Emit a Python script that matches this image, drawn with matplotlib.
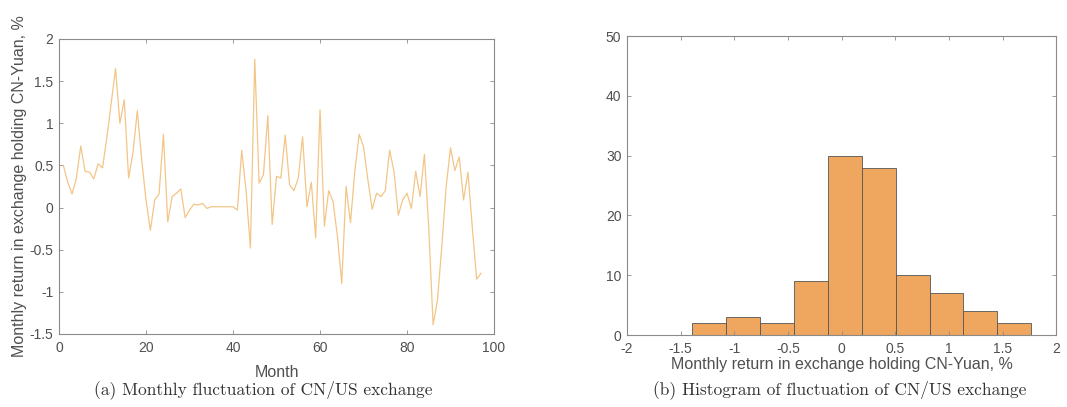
import numpy as np
import matplotlib
matplotlib.use("Agg")
import matplotlib.pyplot as plt

# monthly return in exchange holding CN-Yuan, % (months 1..97)
months = np.arange(1, 98)
returns = [
    0.50, 0.30, 0.16, 0.35, 0.73, 0.43, 0.42, 0.34, 0.52, 0.47,
    0.83, 1.24, 1.65, 1.00, 1.28, 0.35, 0.65, 1.15, 0.57, 0.09,
    -0.27, 0.09, 0.16, 0.87, -0.17, 0.13, 0.17, 0.22, -0.12, -0.03,
    0.04, 0.03, 0.05, -0.01, 0.01, 0.01, 0.01, 0.01, 0.01, 0.01,
    -0.03, 0.68, 0.20, -0.48, 1.76, 0.29, 0.39, 1.09, -0.20, 0.37,
    0.35, 0.86, 0.27, 0.20, 0.35, 0.84, 0.01, 0.30, -0.36, 1.16,
    -0.22, 0.20, 0.07, -0.34, -0.90, 0.25, -0.18, 0.43, 0.87, 0.72,
    0.33, -0.02, 0.17, 0.13, 0.20, 0.68, 0.43, -0.09, 0.09, 0.17,
    -0.01, 0.43, 0.13, 0.63, -0.25, -1.39, -1.10, -0.46, 0.25, 0.71,
    0.44, 0.60, 0.09, 0.42, -0.23, -0.85, -0.78,
]
hist_edges = np.linspace(-1.394, 1.767, 11)

line_color = "#f3c586"
bar_color = "#efa65e"
text_color = "#505050"
spine_color = "#8a8a8a"

plt.rcParams["font.family"] = ["Liberation Sans", "DejaVu Sans"]
plt.rcParams["axes.unicode_minus"] = False

fig = plt.figure(figsize=(10.67, 4.07), dpi=100)
ax1 = fig.add_axes([0.0553, 0.1794, 0.4077, 0.7248])
ax2 = fig.add_axes([0.5876, 0.1769, 0.4024, 0.7346])


def matlab_style(ax):
    for s in ax.spines.values():
        s.set_color(spine_color)
        s.set_linewidth(0.8)
    ax.tick_params(direction="in", top=True, right=True, length=3,
                   width=0.6, color=spine_color, labelsize=10,
                   labelcolor=text_color)
    ax.tick_params(axis="x", pad=5)
    ax.tick_params(axis="y", pad=4)


ax1.plot(months, returns, color=line_color, linewidth=0.9)
ax1.set_xlim(0, 100)
ax1.set_ylim(-1.5, 2)
ax1.set_xticks(np.arange(0, 101, 20))
ax1.set_yticks(np.arange(-1.5, 2.01, 0.5))
ax1.set_yticklabels(["-1.5", "-1", "-0.5", "0", "0.5", "1", "1.5", "2"])
ax1.set_xlabel("Month", fontsize=11.5, color=text_color, labelpad=7)
ax1.set_ylabel("Monthly return in exchange holding CN-Yuan, %", fontsize=11.5,
               color=text_color, labelpad=2)
matlab_style(ax1)

ax2.hist(returns, bins=hist_edges, color=bar_color, edgecolor="#555555",
         linewidth=0.6)
ax2.set_xlim(-2, 2)
ax2.set_ylim(0, 50)
ax2.set_xticks(np.arange(-2, 2.01, 0.5))
ax2.set_xticklabels(["-2", "-1.5", "-1", "-0.5", "0", "0.5", "1", "1.5", "2"])
ax2.set_yticks(np.arange(0, 51, 10))
ax2.set_xlabel("Monthly return in exchange holding CN-Yuan, %", fontsize=11.5,
               color=text_color, labelpad=1)
matlab_style(ax2)

fig.text(0.2465, 0.042, "(a) Monthly fluctuation of CN/US exchange",
         ha="center", va="center", fontsize=12.5, family="cmr10", color="#333333")
fig.text(0.787, 0.042, "(b) Histogram of fluctuation of CN/US exchange",
         ha="center", va="center", fontsize=12.5, family="cmr10", color="#333333")

fig.savefig("out.png", dpi=100)
